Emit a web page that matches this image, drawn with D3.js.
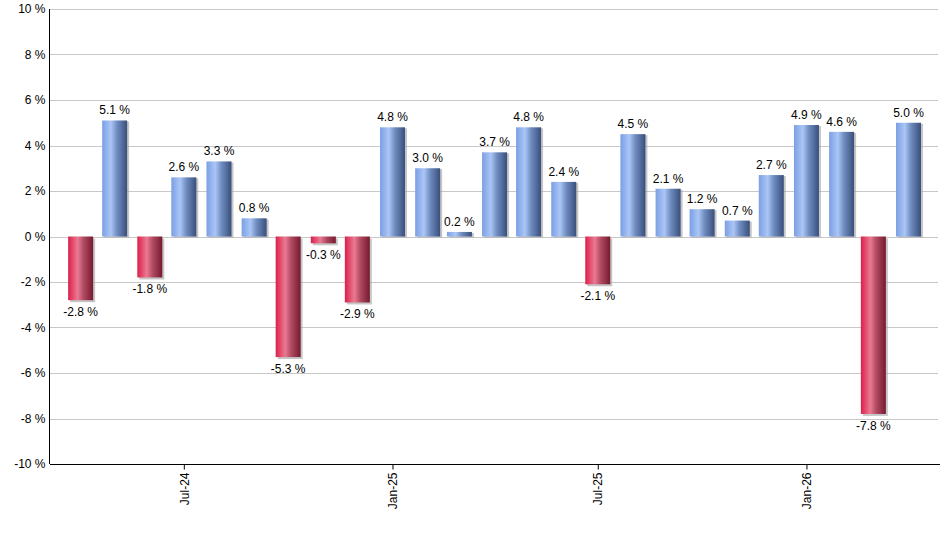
<!DOCTYPE html>
<html>
<head>
<meta charset="utf-8">
<script src="https://cdn.jsdelivr.net/npm/d3@7"></script>
<style>
  body { margin: 0; background: #fff; }
  svg { display: block; font-family: "Liberation Sans", Arial, sans-serif; }
</style>
</head>
<body>
<svg id="chart" width="940" height="550"></svg>
<script>
// Monthly returns, Apr-24 .. Apr-26
const months = [
  "2024-04", "2024-05", "2024-06", "2024-07", "2024-08", "2024-09", "2024-10",
  "2024-11", "2024-12", "2025-01", "2025-02", "2025-03", "2025-04", "2025-05",
  "2025-06", "2025-07", "2025-08", "2025-09", "2025-10", "2025-11", "2025-12",
  "2026-01", "2026-02", "2026-03", "2026-04"
];
const returns = [
  -2.8, 5.1, -1.8, 2.6, 3.3, 0.8, -5.3,
  -0.3, -2.9, 4.8, 3.0, 0.2, 3.7, 4.8,
  2.4, -2.1, 4.5, 2.1, 1.2, 0.7, 2.7,
  4.9, 4.6, -7.8, 5.0
];
const yTicks = [-10, -8, -6, -4, -2, 0, 2, 4, 6, 8, 10];
const xTicks = ["2024-07", "2025-01", "2025-07", "2026-01"];

const parse = d3.timeParse("%Y-%m");
const data = months.map((m, i) => ({ date: parse(m), value: returns[i] }));

const svg = d3.select("#chart");
const mLeft = 50, mRight = 938, mTop = 9, mBottom = 464;

const x = d3.scaleTime()
  .domain([new Date(2024, 2, 5), new Date(2026, 3, 27)])
  .range([mLeft, mRight]);
const y = d3.scaleLinear().domain([-10, 10]).range([mBottom, mTop]);

const barW = 25;

// gradients
const defs = svg.append("defs");
function grad(id, stops) {
  const g = defs.append("linearGradient").attr("id", id)
    .attr("x1", "0%").attr("x2", "100%").attr("y1", "0%").attr("y2", "0%");
  stops.forEach(([o, c]) => g.append("stop").attr("offset", o).attr("stop-color", c));
}
grad("blueGrad", [["0%", "#7b9fe4"], ["35%", "#abc6f6"], ["60%", "#6f8cc0"], ["100%", "#394f7c"]]);
grad("redGrad", [["0%", "#dc1f4a"], ["38%", "#ea7a92"], ["62%", "#b04a62"], ["100%", "#761a2e"]]);

// gridlines
svg.append("g")
  .selectAll("line")
  .data(yTicks.filter(d => d !== -10))
  .join("line")
  .attr("x1", mLeft).attr("x2", mRight)
  .attr("y1", d => Math.round(y(d)) + 0.5).attr("y2", d => Math.round(y(d)) + 0.5)
  .attr("stroke", "#c8c8c8");

// bar shadows
svg.append("g")
  .selectAll("rect")
  .data(data)
  .join("rect")
  .attr("x", d => x(d.date) - barW / 2 + 2)
  .attr("y", d => Math.min(y(d.value), y(0)) + (d.value < 0 ? 2 : 1))
  .attr("width", barW)
  .attr("height", d => Math.abs(y(d.value) - y(0)))
  .attr("fill", "#a0a0a0")
  .attr("opacity", 0.6);

// bars
svg.append("g")
  .selectAll("rect")
  .data(data)
  .join("rect")
  .attr("x", d => x(d.date) - barW / 2)
  .attr("y", d => Math.min(y(d.value), y(0)))
  .attr("width", barW)
  .attr("height", d => Math.abs(y(d.value) - y(0)))
  .attr("fill", d => d.value < 0 ? "url(#redGrad)" : "url(#blueGrad)");

// value labels (plain hyphen for minus, as in the original)
svg.append("g")
  .selectAll("text")
  .data(data)
  .join("text")
  .attr("x", d => x(d.date))
  .attr("y", d => d.value < 0 ? y(d.value) + 16 : y(d.value) - 6)
  .attr("text-anchor", "middle")
  .attr("font-size", 12)
  .attr("fill", "#000")
  .text(d => d.value.toFixed(1) + " %");

// y axis
const yAxis = svg.append("g")
  .attr("transform", `translate(${mLeft - 0.5},0)`)
  .call(d3.axisLeft(y).tickValues(yTicks).tickSize(0).tickPadding(4)
    .tickFormat(d => d + " %"));
yAxis.select(".domain").attr("stroke", "#000").attr("d", `M0,${mTop}V${mBottom}`);
yAxis.selectAll("text").attr("font-size", 12).attr("font-family", "Liberation Sans, Arial, sans-serif").attr("fill", "#000");

// x axis
const xAxis = svg.append("g")
  .attr("transform", `translate(0,${mBottom + 0.5})`)
  .call(d3.axisBottom(x).tickValues(xTicks.map(parse)).tickSize(5)
    .tickFormat(d3.timeFormat("%b-%y")));
xAxis.select(".domain").attr("stroke", "#000").attr("d", `M${mLeft},0H${mRight + 2}`);
xAxis.selectAll(".tick line").attr("stroke", "#000");
xAxis.selectAll("text")
  .attr("font-size", 12)
  .attr("font-family", "Liberation Sans, Arial, sans-serif")
  .attr("fill", "#000")
  .attr("text-anchor", "end")
  .attr("transform", "rotate(-90)")
  .attr("x", -8)
  .attr("y", 0)
  .attr("dy", "0.35em");
</script>
</body>
</html>
